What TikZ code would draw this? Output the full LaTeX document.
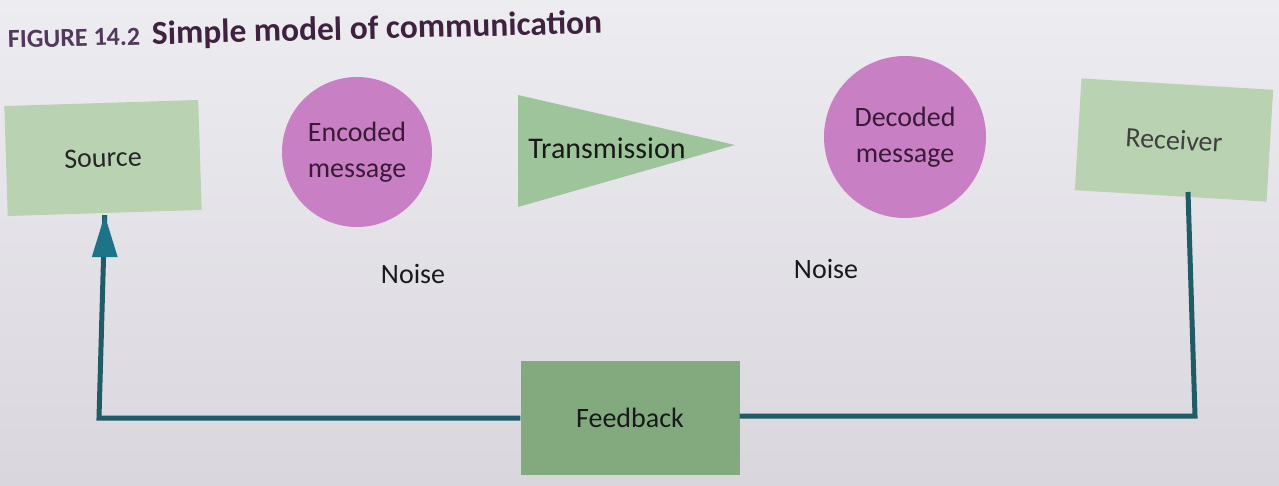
\documentclass[tikz,border=0pt]{standalone}
\usepackage{fontspec}
\setmainfont{Carlito}
\usetikzlibrary{arrows.meta,calc}
\definecolor{bgtop}{HTML}{EDECF1}
\definecolor{bgbot}{HTML}{D9D7DD}
\definecolor{lightgreen}{HTML}{B9D2B1}
\definecolor{midgreen}{HTML}{9DC49A}
\definecolor{darkgreen}{HTML}{82AA7E}
\definecolor{mauve}{HTML}{C97FC3}
\definecolor{teal}{HTML}{1E5C68}
\definecolor{arrowteal}{HTML}{1B7487}
\definecolor{titlecol}{HTML}{3F2140}
\definecolor{figcol}{HTML}{52385A}
\definecolor{txt}{HTML}{262626}
\definecolor{circtxt}{HTML}{3A1A38}
\tikzset{
  lbl/.style={font=\fontsize{28}{36}\selectfont, text=txt, align=center},
  greenbox/.style={draw=none, fill=lightgreen, minimum width=194pt, minimum height=110pt, inner sep=0pt, lbl},
  fbbox/.style={draw=none, fill=darkgreen, minimum width=219pt, minimum height=114pt, inner sep=0pt, lbl, text=black!90},
  msg/.style={circle, fill=mauve, inner sep=0pt, lbl, text=circtxt},
  link/.style={draw=teal, line width=5pt},
}
\begin{document}
\begin{tikzpicture}[x=1pt,y=-1pt]
\shade[top color=bgtop, bottom color=bgbot] (0,0) rectangle (1279,485);
\useasboundingbox (0,0) rectangle (1279,485);

% title
\node[anchor=base west, rotate=1.4, inner sep=0pt] (title) at (8,48)
  {\fontsize{26}{30}\selectfont\bfseries\color{figcol}FIGURE 14.2\hspace{12pt}\fontsize{33.5}{38}\selectfont\color{titlecol}Simple model of communication};

% nodes
\node[greenbox, rotate=1.8] (src) at (103,158) {Source};
\node[msg, minimum size=150pt] (enc) at (357,152) {Encoded\\message};
\coordinate (tA) at (518,95);
\coordinate (tB) at (518,207);
\coordinate (tC) at (735,145);
\fill[midgreen] (tA) -- (tC) -- (tB) -- cycle;
\node[lbl, text=black!90, font=\fontsize{30}{36}\selectfont] (trans) at (607,148) {Transmission};
\node[msg, minimum size=162pt] (dec) at (905,137) {Decoded\\message};
\node[greenbox, rotate=-3.4, minimum width=192pt, minimum height=112pt, text=black!75] (rec) at (1174,140) {Receiver};
\node[lbl, text=black!90] (noise1) at (413,274) {Noise};
\node[lbl, text=black!90] (noise2) at (826,269) {Noise};
\node[fbbox] (fb) at (630,418) {Feedback};

% connectors
\coordinate (rS) at (1188,192);
\coordinate (cR) at (1195,416);
\coordinate (cL) at (99,418);
\draw[link, line join=miter] (rS) -- (cR) -- (fb.east |- cR);
\draw[link, line join=miter] (fb.west |- cL) -- (cL) -- ($(src.south)+(0,2)$);
\fill[arrowteal] ($(src.south)+(0,2)$) -- ++(-13,42) -- ++(26,0) -- cycle;
\end{tikzpicture}
\end{document}
